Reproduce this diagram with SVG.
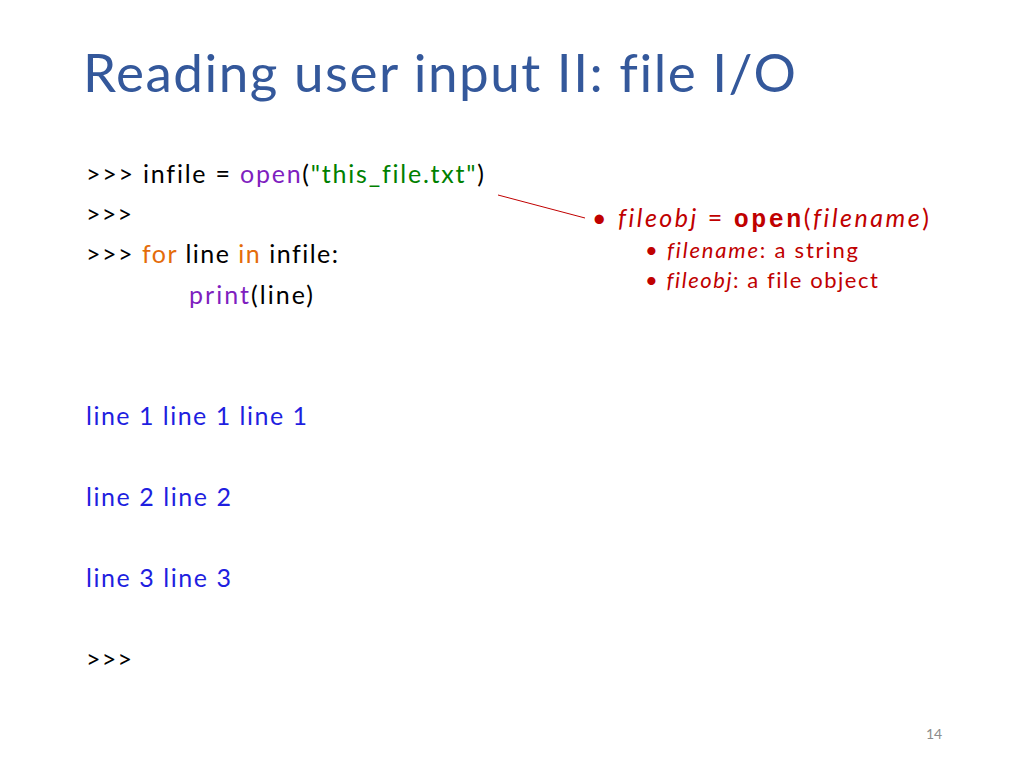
<svg xmlns="http://www.w3.org/2000/svg" width="1024" height="768" viewBox="0 0 1024 768">
<style>
text{font-family:Lato,"Open Sans","Liberation Sans",sans-serif;font-variant-ligatures:none}
tspan.m{font-family:"Liberation Mono","Courier New",monospace;font-weight:bold}
.c{font-size:25px;fill:#000}
.p{fill:#7F1FBF}.s{fill:#008000}.k{fill:#E46C0A}
.o{font-size:25px;fill:#1F1FE0}
.r{fill:#C00000}
</style>
<rect width="1024" height="768" fill="#fff"/>
<text x="83" y="92" font-size="53" fill="#34589B" textLength="713">Reading user input II: file I/O</text>
<g id="code">
<text class="c" x="86" y="183" textLength="398">&gt;&gt;&gt; infile = <tspan class="p">open</tspan>(<tspan class="s">"this_file.txt"</tspan>)</text>
<text class="c" x="86" y="223" textLength="46">&gt;&gt;&gt;</text>
<text class="c" x="86" y="263" textLength="252">&gt;&gt;&gt; <tspan class="k">for</tspan> line <tspan class="k">in</tspan> infile:</text>
<text class="c" x="189" y="304" textLength="124"><tspan class="p">print</tspan>(line)</text>
</g>
<g id="output">
<text class="o" x="86" y="425" textLength="221">line 1 line 1 line 1</text>
<text class="o" x="86" y="506" textLength="145">line 2 line 2</text>
<text class="o" x="86" y="587" textLength="145">line 3 line 3</text>
<text class="c" x="86" y="668" textLength="46">&gt;&gt;&gt;</text>
</g>
<g id="connectors"><line x1="498" y1="195" x2="585" y2="218" stroke="#C00000" stroke-width="1"/></g>
<g id="note" class="r">
<text x="592" y="227" font-size="25" class="r" textLength="337">• <tspan font-style="italic">fileobj</tspan> = <tspan class="m">open</tspan>(<tspan font-style="italic">filename</tspan>)</text>
<text x="645" y="258" font-size="22" class="r" textLength="213">• <tspan font-style="italic">filename</tspan>: a string</text>
<text x="645" y="288" font-size="22" class="r" textLength="233">• <tspan font-style="italic">fileobj</tspan>: a file object</text>
</g>
<text x="926" y="739" font-size="14" fill="#8C8C8C">14</text>
</svg>
